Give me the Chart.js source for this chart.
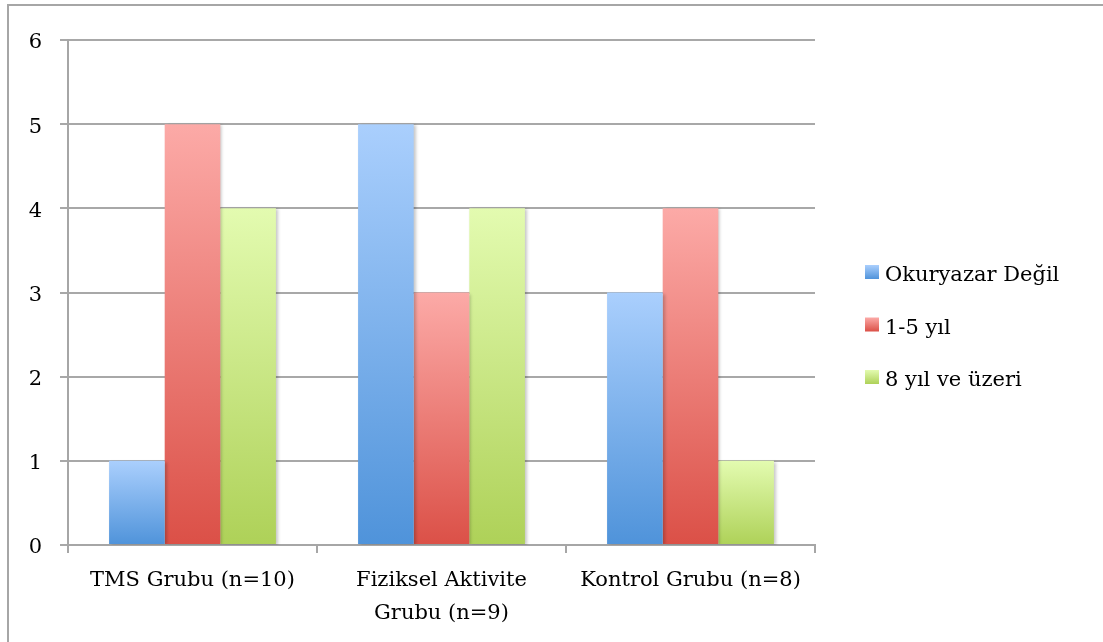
<!doctype html>
<html lang="tr">
<head>
    <meta charset="utf-8">
    <title>Eğitim durumu</title>
    <script src="https://cdn.jsdelivr.net/npm/chart.js@4.4.1/dist/chart.umd.min.js"></script>
    <style>
        body { margin: 0; background: #fff; }
        canvas { display: block; }
    </style>
</head>
<body>
    <canvas id="myChart" width="1103" height="642"></canvas>
<script>
    // veriler
    const groups = [['TMS Grubu (n=10)'], ['Fiziksel Aktivite', 'Grubu (n=9)'], ['Kontrol Grubu (n=8)']];
    const seriesNames = ['Okuryazar Değil', '1-5 yıl', '8 yıl ve üzeri'];
    const okuryazarDegil = [1, 5, 3];
    const birBesYil = [5, 3, 4];
    const sekizYilUzeri = [4, 4, 1];
    const yTicks = [0, 1, 2, 3, 4, 5, 6];

    // renkler (ust, alt)
    const colors = [
        ['#aacffd', '#4f93da'],
        ['#fcaaa7', '#db5047'],
        ['#e3fbb0', '#aed158']
    ];

    const fontFamily = '"DejaVu Serif", "Liberation Serif", serif';
    const fontSize = 21;

    let barGradient = (ctx, i) => {
        const chart = ctx.chart;
        const y = chart.scales.y;
        if (!y || !ctx.parsed) return colors[i][1];
        const top = y.getPixelForValue(ctx.parsed.y);
        const bottom = y.getPixelForValue(0);
        if (!isFinite(top) || !isFinite(bottom) || top === bottom) return colors[i][1];
        const g = chart.ctx.createLinearGradient(0, top, 0, bottom);
        g.addColorStop(0, colors[i][0]);
        g.addColorStop(1, colors[i][1]);
        return g;
    };

    const frame = {
        id: 'frame',
        beforeDraw(chart) {
            const c = chart.ctx;
            c.save();
            c.strokeStyle = '#a6a6a6';
            c.lineWidth = 2;
            c.beginPath();
            c.moveTo(8, 642);
            c.lineTo(8, 5);
            c.lineTo(1103, 5);
            c.stroke();
            c.restore();
        }
    };

    const shadow = {
        id: 'shadow',
        beforeDatasetsDraw(chart) {
            const c = chart.ctx;
            c.save();
            c.shadowColor = 'rgba(0,0,0,0.22)';
            c.shadowBlur = 3;
            c.shadowOffsetX = 2;
            c.shadowOffsetY = 1;
        },
        afterDatasetsDraw(chart) {
            chart.ctx.restore();
        }
    };

    const sideLegend = {
        id: 'sideLegend',
        afterDraw(chart) {
            const c = chart.ctx;
            c.save();
            c.font = fontSize + 'px ' + fontFamily;
            c.textBaseline = 'middle';
            seriesNames.forEach((name, i) => {
                const cy = 272 + i * 52.5;
                const g = c.createLinearGradient(0, cy - 7, 0, cy + 7);
                g.addColorStop(0, colors[i][0]);
                g.addColorStop(1, colors[i][1]);
                c.fillStyle = g;
                c.fillRect(865, cy - 7, 14, 14);
                c.fillStyle = '#000';
                c.fillText(name, 885, cy + 4);
            });
            c.restore();
        }
    };

    const datasets = [okuryazarDegil, birBesYil, sekizYilUzeri].map((d, i) => ({
        label: seriesNames[i],
        data: d,
        backgroundColor: ctx => barGradient(ctx, i),
        borderWidth: 0,
        categoryPercentage: 0.67,
        barPercentage: 1
    }));

    new Chart(document.getElementById('myChart'), {
        type: 'bar',
        data: { labels: groups, datasets: datasets },
        options: {
            responsive: false,
            animation: false,
            devicePixelRatio: 1,
            layout: { padding: { top: 40, right: 288, bottom: 0, left: 0 } },
            plugins: {
                legend: { display: false },
                tooltip: { enabled: false }
            },
            scales: {
                x: {
                    grid: {
                        drawOnChartArea: false,
                        drawTicks: true,
                        tickLength: 8,
                        color: '#a6a6a6',
                        lineWidth: 2
                    },
                    border: { color: '#a6a6a6', width: 2 },
                    ticks: {
                        color: '#000',
                        padding: 11,
                        maxRotation: 0,
                        autoSkip: false,
                        font: { family: fontFamily, size: fontSize, lineHeight: 1.57 }
                    },
                    afterFit: scale => { scale.height = 97; }
                },
                y: {
                    min: 0,
                    max: 6,
                    afterBuildTicks: scale => { scale.ticks = yTicks.map(v => ({ value: v })); },
                    grid: {
                        color: '#a8a8a8',
                        lineWidth: 2,
                        drawTicks: true,
                        tickLength: 8
                    },
                    border: { color: '#a6a6a6', width: 2 },
                    ticks: {
                        color: '#000',
                        padding: 18,
                        labelOffset: 3,
                        font: { family: fontFamily, size: fontSize }
                    },
                    afterFit: scale => { scale.width = 68; }
                }
            }
        },
        plugins: [frame, shadow, sideLegend]
    });
</script>
</body>
</html>
